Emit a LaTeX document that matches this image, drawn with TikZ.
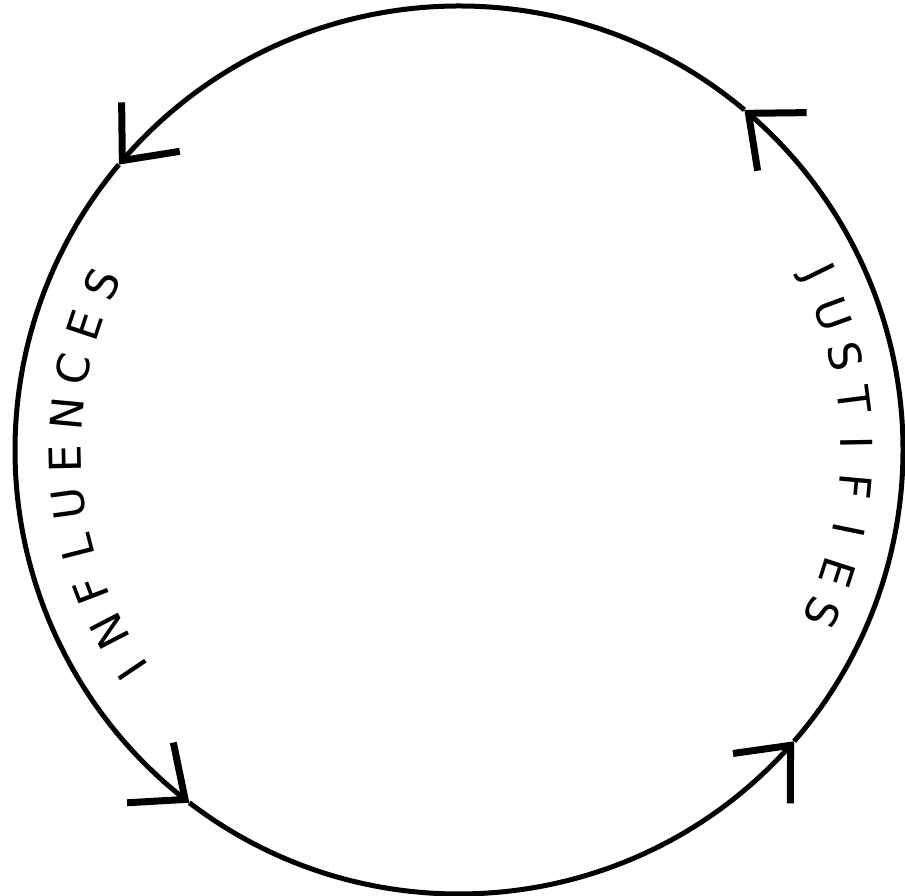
\documentclass[tikz,border=0pt]{standalone}
\usepackage{fontspec}
\newfontfamily\handfont{DejaVu Sans}
\usetikzlibrary{arrows.meta,bending}

\begin{document}
\begin{tikzpicture}[x=1pt, y=1pt, line width=5pt,
  >={Straight Barb[length=44pt, width=76pt, line width=7pt]},
  letter/.style={font=\handfont\fontsize{44}{48}\selectfont, inner sep=0pt}]
 \useasboundingbox (0,0) rectangle (905,895);
 \coordinate (c) at (459,445);

 % points where the arrows sit on the ring
 \path (c) ++(-41:444) coordinate (br);
 \path (c) ++(50:444) coordinate (tr);
 \path (c) ++(140:444) coordinate (tl);
 \path (c) ++(232.6:444) coordinate (bl);

 \draw[->] (br) arc[start angle=-41, end angle=50, radius=444];
 \draw[->] (tr) arc[start angle=50, end angle=140, radius=444];
 \draw[->] (tl) arc[start angle=140, end angle=232.6, radius=444];
 \draw[->] (bl) arc[start angle=232.6, end angle=319, radius=444];

 % left label
 \foreach \ch [count=\i] in {I,N,F,L,U,E,N,C,E,S} {
  \pgfmathsetmacro\ang{214-6.55*(\i-1)}
  \node[letter, rotate=\ang-90] (inf-\i) at ([shift={(\ang:394)}]c) {\ch};
 }

 % right label
 \foreach \ch [count=\i] in {J,U,S,T,I,F,I,E,S} {
  \pgfmathsetmacro\ang{26.2-6.3*(\i-1)}
  \node[letter, rotate=\ang-90] (jus-\i) at ([shift={(\ang:398)}]c) {\ch};
 }
\end{tikzpicture}
\end{document}
